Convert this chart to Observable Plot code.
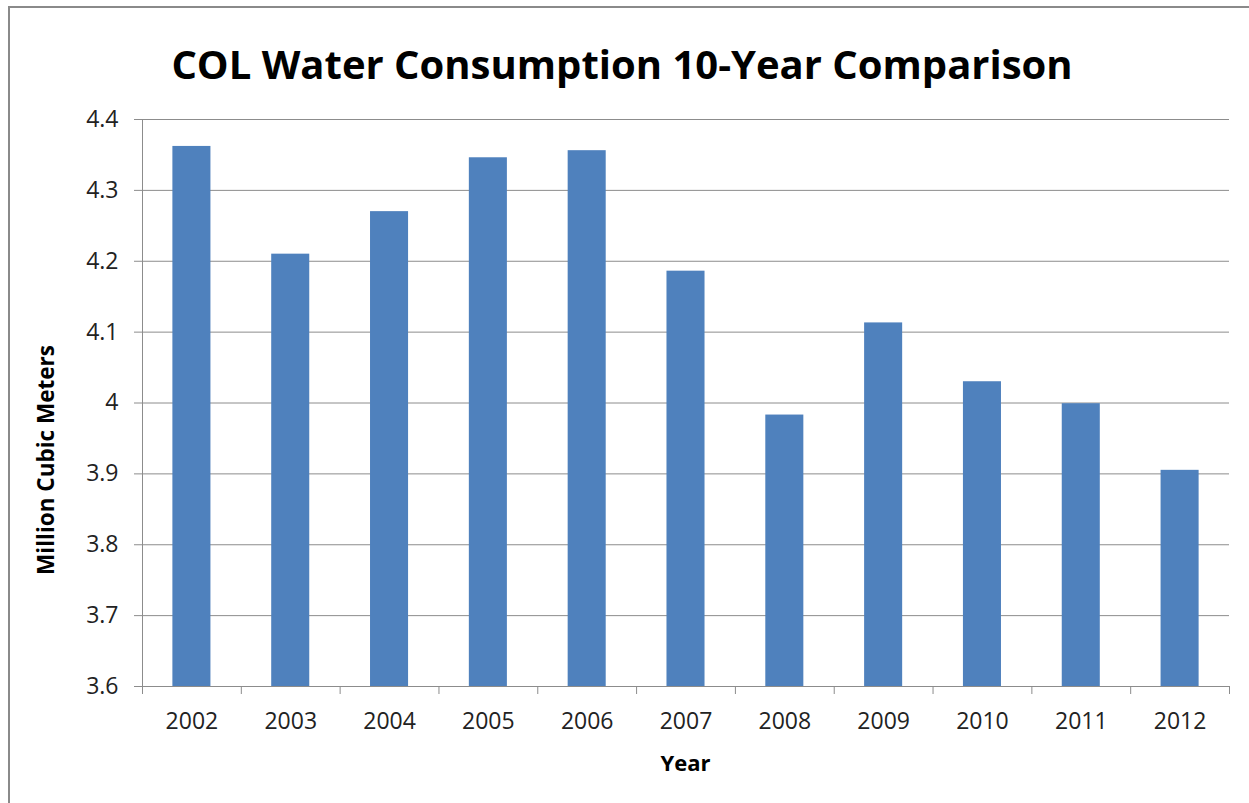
<!DOCTYPE html>
<html><head><meta charset="utf-8">
<script src="https://cdn.jsdelivr.net/npm/d3@7"></script>
<script src="https://cdn.jsdelivr.net/npm/@observablehq/plot@0.6"></script>
<style>
body{margin:0;background:#fff;}
#wrap{position:relative;width:1249px;height:803px;overflow:hidden;font-family:"Open Sans",sans-serif;color:#000;}
#frame{position:absolute;left:8px;top:6px;width:1300px;height:900px;border-top:2px solid #8a8a8a;border-left:2px solid #8a8a8a;}
#chart{position:absolute;left:0;top:0;}
#title{position:absolute;left:8px;width:1228px;top:44px;text-align:center;font-weight:700;font-size:40px;line-height:1;white-space:nowrap;}
#ylabel{position:absolute;left:46px;top:460px;transform:translate(-50%,-50%) rotate(-90deg);font-weight:700;font-size:22.5px;line-height:1;white-space:nowrap;}
#xlabel{position:absolute;left:0;width:1371px;top:751px;text-align:center;font-weight:700;font-size:22px;line-height:1;white-space:nowrap;}
</style>
</head><body>
<div id="wrap">
  <div id="frame"></div>
  <div id="chart"></div>
  <div id="title">COL Water Consumption 10-Year Comparison</div>
  <div id="ylabel">Million Cubic Meters</div>
  <div id="xlabel">Year</div>
</div>
<script>
const years = ["2002","2003","2004","2005","2006","2007","2008","2009","2010","2011","2012"];
const consumption = [4.362, 4.210, 4.270, 4.346, 4.356, 4.186, 3.983, 4.113, 4.030, 3.999, 3.905];
const yTicks = [3.6, 3.7, 3.8, 3.9, 4.0, 4.1, 4.2, 4.3, 4.4];

const data = years.map((year, i) => ({year, value: consumption[i]}));

const W = 1249, H = 803, ML = 142, MR = 20, MT = 119, MB = 117;
const step = (W - ML - MR) / years.length;
const gray = "#8c8c8c";

const chart = Plot.plot({
  width: W, height: H,
  marginLeft: ML, marginRight: MR, marginTop: MT, marginBottom: MB,
  style: {fontFamily: "'Open Sans', sans-serif", fontSize: "23px", color: "#222", background: "transparent", overflow: "visible"},
  x: {type: "band", domain: years, paddingInner: 0.615, paddingOuter: 0.3075, round: false, label: null},
  y: {domain: [yTicks[0], yTicks[yTicks.length - 1]], label: null},
  marks: [
    Plot.gridY(yTicks, {stroke: gray, strokeOpacity: 1, strokeWidth: 1}),
    Plot.barY(data, {x: "year", y1: () => yTicks[0], y2: "value", fill: "#4F81BD"}),
    Plot.frame({anchor: "left", stroke: gray}),
    Plot.frame({anchor: "bottom", stroke: gray}),
    Plot.axisY({ticks: yTicks, tickSize: 8, tickPadding: 16, stroke: gray, fill: "#222",
      tickFormat: d => String(+d.toFixed(1)), label: null}),
    Plot.axisX({tickSize: 0, tickPadding: 26, fill: "#222", label: null}),
    Plot.axisX({tickSize: 8, stroke: gray, tickFormat: () => "", dx: -step / 2, label: null}),
    Plot.axisX({ticks: [years[years.length - 1]], tickSize: 8, stroke: gray, tickFormat: () => "", dx: step / 2, label: null})
  ]
});
document.getElementById("chart").appendChild(chart);
</script>
</body></html>
